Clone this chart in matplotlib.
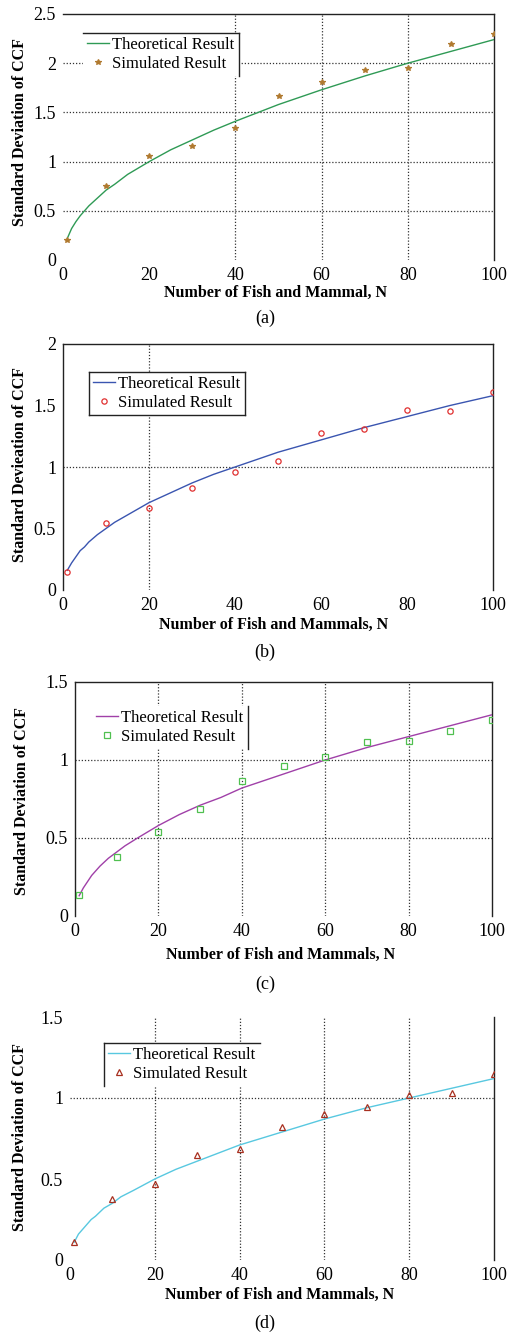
import matplotlib
matplotlib.use("Agg")
import matplotlib.pyplot as plt
from matplotlib.lines import Line2D

plt.rcParams['font.family'] = ['Liberation Serif', 'DejaVu Serif']

# Valores
n_sim = [1, 10, 20, 30, 40, 50, 60, 70, 80, 90, 100]
n_theory = [1, 2, 3, 4, 5, 6, 8, 10, 12, 15, 20, 25, 30, 35, 40, 50, 60, 70, 80, 90, 100]

theory_a = [0.22, 0.32, 0.39, 0.45, 0.50, 0.55, 0.63, 0.71, 0.77, 0.87, 1.00, 1.12, 1.22, 1.32, 1.41, 1.58, 1.73, 1.87, 2.00, 2.12, 2.24]
sim_a = [0.20, 0.755, 1.057, 1.159, 1.345, 1.663, 1.806, 1.931, 1.948, 2.199, 2.297]

theory_b = [0.16, 0.22, 0.27, 0.32, 0.35, 0.39, 0.45, 0.50, 0.55, 0.61, 0.71, 0.79, 0.87, 0.94, 1.00, 1.12, 1.22, 1.32, 1.41, 1.50, 1.58]
sim_b = [0.149, 0.542, 0.669, 0.832, 0.957, 1.049, 1.279, 1.312, 1.466, 1.458, 1.607]

theory_c = [0.13, 0.18, 0.22, 0.26, 0.29, 0.32, 0.37, 0.41, 0.45, 0.50, 0.58, 0.65, 0.71, 0.76, 0.82, 0.91, 1.00, 1.08, 1.15, 1.22, 1.29]
sim_c = [0.137, 0.377, 0.536, 0.684, 0.866, 0.962, 1.022, 1.114, 1.123, 1.185, 1.256]

theory_d = [0.11, 0.16, 0.19, 0.22, 0.25, 0.27, 0.32, 0.35, 0.39, 0.43, 0.50, 0.56, 0.61, 0.66, 0.71, 0.79, 0.87, 0.94, 1.00, 1.06, 1.12]
sim_d = [0.113, 0.379, 0.470, 0.647, 0.684, 0.820, 0.900, 0.942, 1.018, 1.032, 1.150]

x_ticks = [0, 20, 40, 60, 80, 100]
x_ticklabels = ['0', '20', '40', '60', '80', '100']

W, H = 509, 1337
fig = plt.figure(figsize=(W / 100, H / 100), dpi=100)


def px_axes(left, right, top, bottom):
    return fig.add_axes([left / W, 1 - bottom / H, (right - left) / W, (bottom - top) / H])


def px_text(x, y, s, **kw):
    fig.text(x / W, 1 - y / H, s, ha='center', va='center', **kw)


panels = [
    # datos, estilo y posición de cada panel
    dict(theory=theory_a, sim=sim_a, ymax=2.5, yticks=[0, 0.5, 1, 1.5, 2, 2.5],
         yticklabels=['0', '0.5', '1', '1.5', '2', '2.5'],
         line_color='#2f9a55', mk='*', mk_color='#b07a30', mk_fill=True,
         box=(63, 494, 14, 260), gx=[40, 60, 80], gy=[0.5, 1, 1.5, 2],
         spines=['top', 'right'],
         xlabel='Number of Fish and Mammal, N', xl=(276, 293),
         ylabel='Standard Deviation of CCF', yl=(20, 132), cap='(a)', cy=318,
         leg=(83, 236, 33), leg_sides=['top', 'right']),
    dict(theory=theory_b, sim=sim_b, ymax=2, yticks=[0, 0.5, 1, 1.5, 2],
         yticklabels=['0', '0.5', '1', '1.5', '2'],
         line_color='#3a55b0', mk='o', mk_color='#e03030', mk_fill=False,
         box=(63, 493, 344, 590), gx=[20], gy=[1],
         spines=['top', 'right', 'left'],
         xlabel='Number of Fish and Mammals, N', xl=(274, 625),
         ylabel='Standard Devieation of CCF', yl=(20, 465), cap='(b)', cy=652,
         leg=(89, 242, 372), leg_sides=['top', 'right', 'bottom', 'left']),
    dict(theory=theory_c, sim=sim_c, ymax=1.5, yticks=[0, 0.5, 1, 1.5],
         yticklabels=['0', '0.5', '1', '1.5'],
         line_color='#a040a8', mk='s', mk_color='#50c050', mk_fill=False,
         box=(75, 492, 682, 916), gx=[20, 40, 60, 80], gy=[0.5, 1],
         spines=['top', 'right', 'left'],
         xlabel='Number of Fish and Mammals, N', xl=(281, 955),
         ylabel='Standard Deviation of CCF', yl=(22, 801), cap='(c)', cy=984,
         leg=(92, 245, 706), leg_sides=['right']),
    dict(theory=theory_d, sim=sim_d, ymax=1.5, yticks=[0, 0.5, 1, 1.5],
         yticklabels=['0', '0.5', '1', '1.5'],
         line_color='#58c8e0', mk='^', mk_color='#a83020', mk_fill=False,
         box=(70, 494, 1017, 1260), gx=[20, 40, 60, 80], gy=[1],
         spines=['right'],
         xlabel='Number of Fish and Mammals, N', xl=(280, 1295),
         ylabel='Standard Deviation of CCF', yl=(20, 1137), cap='(d)', cy=1323,
         leg=(104, 257, 1043), leg_sides=['top', 'left']),
]

legends = []
for p in panels:
    ax = px_axes(*p['box'])
    ax.set_xlim(0, 100)
    ax.set_ylim(0, p['ymax'])

    for gx in p['gx']:
        ax.axvline(gx, color='#333333', linestyle=(0, (1, 1.5)), linewidth=0.9, zorder=1)
    for gy in p['gy']:
        ax.axhline(gy, color='#333333', linestyle=(0, (1, 1.5)), linewidth=0.9, zorder=1)

    ax.plot(n_theory, p['theory'], color=p['line_color'], linewidth=1.0,
            label='Theoretical Result', zorder=3)
    ax.plot(n_sim, p['sim'], linestyle='none', marker=p['mk'], markersize=3.8,
            markeredgewidth=0.9, color=p['mk_color'],
            markerfacecolor=p['mk_color'] if p['mk_fill'] else 'none',
            label='Simulated Result', zorder=4)

    ax.set_xticks(x_ticks)
    ax.set_xticklabels(x_ticklabels)
    ax.set_yticks(p['yticks'])
    ax.set_yticklabels(p['yticklabels'])
    ax.tick_params(length=0, labelsize=13, pad=5)

    for side in ['top', 'right', 'bottom', 'left']:
        ax.spines[side].set_visible(side in p['spines'])
        ax.spines[side].set_color('#222222')
        ax.spines[side].set_linewidth(1.0)

    l, r, t = p['leg']
    b0 = p['box']
    anchor = ((l - b0[0]) / (b0[1] - b0[0]), (b0[3] - t) / (b0[3] - b0[2]))
    leg = ax.legend(loc='upper left', bbox_to_anchor=anchor, borderaxespad=0,
                    fontsize=12, handlelength=1.3, handletextpad=0.2,
                    borderpad=0.25, labelspacing=0.15, fancybox=False,
                    framealpha=1, edgecolor='none')
    leg.set_zorder(5)
    legends.append((ax, leg, p['leg_sides']))

    px_text(p['xl'][0], p['xl'][1], p['xlabel'], fontsize=11.5, fontweight='bold')
    px_text(p['yl'][0], p['yl'][1], p['ylabel'], fontsize=11.5, fontweight='bold', rotation=90)
    px_text(265, p['cy'], p['cap'], fontsize=13)

# marco parcial de las leyendas, como en la figura escaneada
fig.canvas.draw()
for ax, leg, sides in legends:
    bb = leg.get_frame().get_window_extent().transformed(ax.transAxes.inverted())
    x0, y0, x1, y1 = bb.x0, bb.y0, bb.x1, bb.y1
    segs = {'top': ([x0, x1], [y1, y1]), 'bottom': ([x0, x1], [y0, y0]),
            'left': ([x0, x0], [y0, y1]), 'right': ([x1, x1], [y0, y1])}
    for s in sides:
        ax.add_line(Line2D(*segs[s], transform=ax.transAxes, color='#222222',
                           linewidth=1.0, zorder=6))

fig.savefig('out.png', dpi=100)
